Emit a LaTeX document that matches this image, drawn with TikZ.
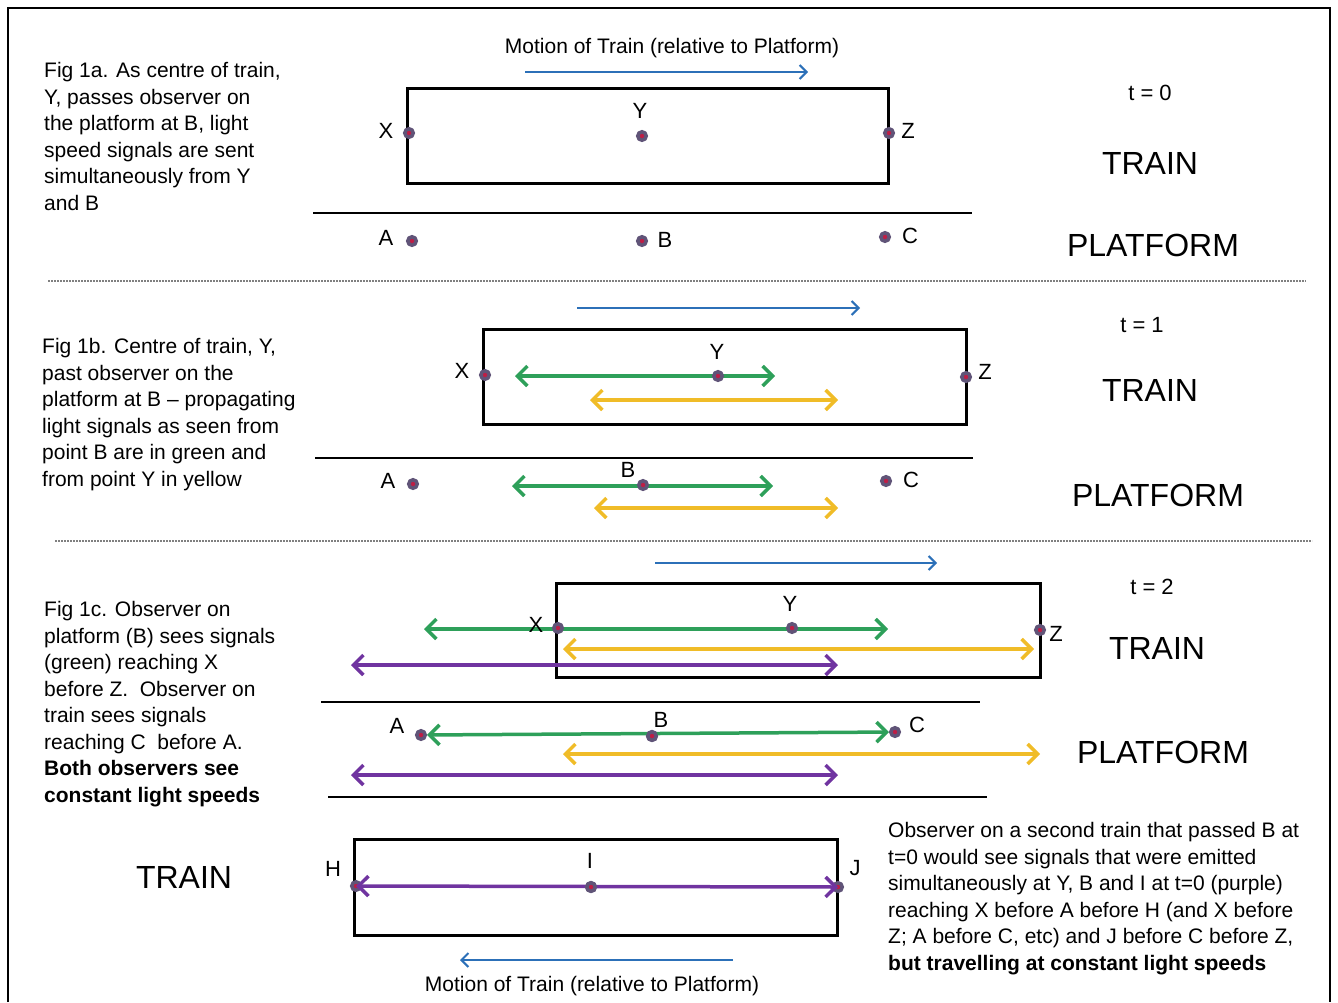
\documentclass[tikz,border=0pt]{standalone}
\usepackage{fontspec}
\setmainfont{Liberation Sans}
\usetikzlibrary{arrows.meta}

\definecolor{sigGreen}{RGB}{46,160,90}
\definecolor{sigYellow}{RGB}{240,188,40}
\definecolor{sigPurple}{RGB}{112,52,160}
\definecolor{moveBlue}{RGB}{44,112,184}
\definecolor{dotGrey}{RGB}{96,84,120}
\definecolor{dotRed}{RGB}{190,30,70}

\begin{document}
\begin{tikzpicture}[x=1pt,y=-1pt,
    caption/.style={anchor=north west,align=left,inner sep=0pt,font=\fontsize{21}{26.5}\selectfont},
    lbl/.style={font=\fontsize{22}{24}\selectfont,inner sep=0pt},
    big/.style={font=\fontsize{32}{36}\selectfont,inner sep=0pt},
    pt/.style={circle,draw=dotGrey,fill=dotRed,line width=3.5pt,inner sep=0pt,minimum size=8.5pt},
    carriage/.style={draw,line width=3pt},
    edge/.style={line width=2pt},
    divider/.style={draw=gray,line width=1.2pt,dash pattern=on 2pt off 1pt},
    motion/.style={draw=moveBlue,line width=2pt,-{Straight Barb[length=7pt,width=14pt]}},
    sig/.style={line width=3.5pt,{Straight Barb[length=10pt,width=20pt]}-{Straight Barb[length=10pt,width=20pt]}},
  ]
    \useasboundingbox (0,0) rectangle (1338,1002);

    % frame
    \draw[line width=2.5pt] (8,1002) -- (8,8) -- (1330,8) -- (1330,1002);

    % Fig 1a, t = 0
    \node[caption] (cap0) at (44,62.5) {Fig 1a. As centre of train,\\Y, passes observer on\\the platform at B, light\\speed signals are sent\\simultaneously from Y\\and B};
    \node[font=\fontsize{21}{24}\selectfont,inner sep=0pt] (mot0) at (672,48) {Motion of Train (relative to Platform)};
    \coordinate (m0s) at (525,72);
    \coordinate (m0e) at (808,72);
    \draw[motion] (m0s) -- (m0e);
    \draw[carriage] (407,88) rectangle (888,183);
    \draw[edge] (313,213) -- (972,213);
    \node[pt] (X0) at (409,133) {};
    \node[pt] (Y0) at (642,136) {};
    \node[pt] (Z0) at (889,133) {};
    \node[pt] (A0) at (412,241) {};
    \node[pt] (B0) at (642,241) {};
    \node[pt] (C0) at (885,237) {};
    \node[lbl] (X0l) at (386,131) {X};
    \node[lbl] (Y0l) at (640,111) {Y};
    \node[lbl] (Z0l) at (908,131) {Z};
    \node[lbl] (A0l) at (386,238) {A};
    \node[lbl] (B0l) at (665,240) {B};
    \node[lbl] (C0l) at (910,236) {C};
    \node[lbl] (t0) at (1150,93) {t = 0};
    \node[big] (train0) at (1150,163) {TRAIN};
    \node[big] (plat0) at (1153,245) {PLATFORM};
    \draw[divider] (48,281) -- (1306,281);

    % Fig 1b, t = 1
    \node[caption] (cap1) at (42,338.5) {Fig 1b. Centre of train, Y,\\past observer on the\\platform at B -- propagating\\light signals as seen from\\point B are in green and\\from point Y in yellow};
    \coordinate (m1s) at (577,308);
    \coordinate (m1e) at (860,308);
    \draw[motion] (m1s) -- (m1e);
    \draw[carriage] (483,329) rectangle (966,424);
    \draw[edge] (315,458) -- (973,458);
    \coordinate (g1a) at (515,376);
    \coordinate (g1b) at (775,376);
    \coordinate (y1a) at (590,400);
    \coordinate (y1b) at (838,400);
    \coordinate (g1c) at (512,486);
    \coordinate (g1d) at (773,486);
    \coordinate (y1c) at (594,508);
    \coordinate (y1d) at (838,508);
    \draw[sig,sigGreen] (g1a) -- (g1b);
    \draw[sig,sigYellow] (y1a) -- (y1b);
    \draw[sig,sigGreen] (g1c) -- (g1d);
    \draw[sig,sigYellow] (y1c) -- (y1d);
    \node[pt] (X1) at (485,375) {};
    \node[pt] (Y1) at (718,376) {};
    \node[pt] (Z1) at (966,377) {};
    \node[pt] (A1) at (413,484) {};
    \node[pt] (B1) at (643,485) {};
    \node[pt] (C1) at (886,481) {};
    \node[lbl] (X1l) at (462,371) {X};
    \node[lbl] (Y1l) at (717,352) {Y};
    \node[lbl] (Z1l) at (985,372) {Z};
    \node[lbl] (A1l) at (388,481) {A};
    \node[lbl] (B1l) at (628,470) {B};
    \node[lbl] (C1l) at (911,480) {C};
    \node[lbl] (t1) at (1142,325) {t = 1};
    \node[big] (train1) at (1150,390) {TRAIN};
    \node[big] (plat1) at (1158,495) {PLATFORM};
    \draw[divider] (55,541) -- (1312,541);

    % Fig 1c, t = 2
    \node[caption] (cap2) at (44,601.5) {Fig 1c. Observer on\\platform (B) sees signals\\(green) reaching X\\before Z.\ \ Observer on\\train sees signals\\reaching C\ \ before A.\\\textbf{Both observers see}\\\textbf{constant light speeds}};
    \coordinate (m2s) at (655,563);
    \coordinate (m2e) at (937,563);
    \draw[motion] (m2s) -- (m2e);
    \draw[carriage] (556,583) rectangle (1040,677);
    \draw[edge] (321,702) -- (980,702);
    \draw[edge] (328,797) -- (987,797);
    \coordinate (g2a) at (424,629);
    \coordinate (g2b) at (888,629);
    \coordinate (y2a) at (563,649);
    \coordinate (y2b) at (1034,649);
    \coordinate (p2a) at (351,665);
    \coordinate (p2b) at (838,665);
    \coordinate (y2c) at (563,754);
    \coordinate (y2d) at (1040,754);
    \coordinate (p2c) at (351,775);
    \coordinate (p2d) at (838,775);
    \draw[sig,sigGreen] (g2a) -- (g2b);
    \draw[sig,sigYellow] (y2a) -- (y2b);
    \draw[sig,sigPurple] (p2a) -- (p2b);
    \draw[sig,sigYellow] (y2c) -- (y2d);
    \draw[sig,sigPurple] (p2c) -- (p2d);
    \node[pt] (X2) at (558,628) {};
    \node[pt] (Y2) at (792,628) {};
    \node[pt] (Z2) at (1040,630) {};
    \node[pt] (A2) at (421,735) {};
    \node[pt] (B2) at (652,736) {};
    \node[pt] (C2) at (895,732) {};
    \draw[sig,sigGreen] (A2) -- (C2);
    \node[pt] at (B2) {};
    \node[lbl] (X2l) at (536,625) {X};
    \node[lbl] (Y2l) at (790,604) {Y};
    \node[lbl] (Z2l) at (1056,634) {Z};
    \node[lbl] (A2l) at (397,726) {A};
    \node[lbl] (B2l) at (661,720) {B};
    \node[lbl] (C2l) at (917,725) {C};
    \node[lbl] (t2) at (1152,587) {t = 2};
    \node[big] (train2) at (1157,648) {TRAIN};
    \node[big] (plat2) at (1163,752) {PLATFORM};

    % second train
    \node[big] (train3) at (184,877) {TRAIN};
    \draw[carriage] (354,839) rectangle (837,935);
    \node[pt] (H) at (356,886) {};
    \node[pt] (I) at (591,887) {};
    \node[pt] (J) at (838,887) {};
    \draw[sig,sigPurple] (H.center) -- (J.center);
    \node[pt] at (I) {};
    \node[lbl] (Hl) at (333,869) {H};
    \node[lbl] (Il) at (590,861) {I};
    \node[lbl] (Jl) at (855,868) {J};
    \coordinate (m3s) at (733,960);
    \coordinate (m3e) at (460,960);
    \draw[motion] (m3s) -- (m3e);
    \node[font=\fontsize{21}{24}\selectfont,inner sep=0pt] (mot3) at (592,986) {Motion of Train (relative to Platform)};
    \node[caption] (cap3) at (888,822.5) {Observer on a second train that passed B at\\t=0 would see signals that were emitted\\simultaneously at Y, B and I at t=0 (purple)\\reaching X before A before H (and X before\\Z; A before C, etc) and J before C before Z,\\\textbf{but travelling at constant light speeds}};
\end{tikzpicture}
\end{document}
